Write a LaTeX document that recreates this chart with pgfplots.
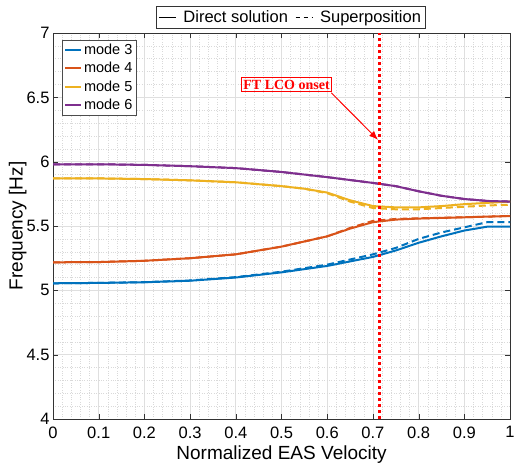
\documentclass[border=0pt]{standalone}
\usepackage{pgfplots}
\pgfplotsset{compat=1.18}
\usepackage{fontspec}
\setmainfont{Liberation Sans}
\newfontfamily\serifbf{Liberation Serif}
\usetikzlibrary{arrows.meta}
\definecolor{m3}{rgb}{0,0.447,0.741}
\definecolor{m4}{rgb}{0.85,0.325,0.098}
\definecolor{m5}{rgb}{0.929,0.694,0.125}
\definecolor{m6}{rgb}{0.494,0.184,0.556}
\begin{document}
\begin{tikzpicture}
\begin{axis}[
  name=main,
  scale only axis, width=457pt, height=386pt,
  xmin=0, xmax=1, ymin=4, ymax=7,
  xtick={0,0.1,...,1}, ytick={4,4.5,...,7},
  xticklabels={0,0.1,0.2,0.3,0.4,0.5,0.6,0.7,0.8,0.9,1},
  yticklabels={4,4.5,5,5.5,6,6.5,7},
  minor x tick num=4, minor y tick num=4,
  grid=both,
  major grid style={gray!25, line width=0.7pt},
  minor grid style={gray!30, dotted, line width=0.5pt},
  tick align=inside, major tick length=5pt, minor tick length=0pt,
  axis line style={black!80, line width=0.6pt},
  tick style={black!80},
  /pgf/number format/assume math mode=true,
  tick label style={font=\fontsize{16.5}{19}\selectfont},
  xticklabel style={yshift=-4pt},
  label style={font=\fontsize{19}{22}\selectfont},
  xlabel={Normalized EAS Velocity},
  ylabel={Frequency [Hz]},
  xlabel style={yshift=-1pt},
  ylabel style={yshift=-7pt},
  legend style={at={(0.02,0.983)}, anchor=north west, font=\fontsize{14.5}{16}\selectfont, draw=black!70, inner sep=2pt, row sep=2.5pt},
  legend cell align=left,
  legend image code/.code={\draw[#1] (0cm,0cm) -- (0.55cm,0cm);},
]
\addplot[m3, line width=2pt] coordinates {(0,5.055)(0.1,5.058)(0.2,5.063)(0.3,5.075)(0.4,5.10)(0.5,5.14)(0.6,5.19)(0.7,5.26)(0.75,5.31)(0.8,5.37)(0.85,5.42)(0.9,5.465)(0.95,5.495)(1,5.495)};
\addlegendentry{mode 3}
\addplot[m4, line width=2pt] coordinates {(0,5.218)(0.1,5.22)(0.2,5.23)(0.3,5.25)(0.4,5.28)(0.5,5.34)(0.6,5.42)(0.65,5.48)(0.7,5.53)(0.75,5.55)(0.8,5.558)(0.9,5.568)(1,5.578)};
\addlegendentry{mode 4}
\addplot[m5, line width=2pt] coordinates {(0,5.87)(0.1,5.87)(0.2,5.865)(0.3,5.855)(0.4,5.84)(0.5,5.81)(0.55,5.79)(0.6,5.76)(0.65,5.70)(0.7,5.655)(0.75,5.645)(0.8,5.645)(0.85,5.655)(0.9,5.67)(0.95,5.68)(1,5.69)};
\addlegendentry{mode 5}
\addplot[m6, line width=2pt] coordinates {(0,5.98)(0.1,5.98)(0.2,5.975)(0.3,5.965)(0.4,5.95)(0.5,5.92)(0.6,5.88)(0.7,5.835)(0.75,5.81)(0.8,5.77)(0.85,5.735)(0.9,5.71)(0.95,5.695)(1,5.69)};
\addlegendentry{mode 6}
\addplot[m3, line width=2pt, dash pattern=on 7pt off 4pt, forget plot] coordinates {(0,5.055)(0.1,5.058)(0.2,5.064)(0.3,5.077)(0.4,5.103)(0.5,5.145)(0.6,5.20)(0.7,5.28)(0.75,5.33)(0.8,5.40)(0.85,5.45)(0.9,5.49)(0.95,5.53)(1,5.53)};
\addplot[m4, line width=2pt, dash pattern=on 7pt off 4pt, forget plot] coordinates {(0,5.218)(0.1,5.22)(0.2,5.23)(0.3,5.25)(0.4,5.28)(0.5,5.34)(0.6,5.42)(0.65,5.485)(0.7,5.54)(0.75,5.555)(0.8,5.56)(0.9,5.568)(1,5.578)};
\addplot[m5, line width=2pt, dash pattern=on 7pt off 4pt, forget plot] coordinates {(0,5.87)(0.1,5.87)(0.2,5.865)(0.3,5.855)(0.4,5.84)(0.5,5.81)(0.55,5.79)(0.6,5.755)(0.65,5.69)(0.7,5.64)(0.75,5.63)(0.8,5.63)(0.85,5.64)(0.9,5.65)(0.95,5.66)(1,5.665)};
\addplot[m6, line width=2pt, dash pattern=on 7pt off 4pt, forget plot] coordinates {(0,5.98)(0.1,5.98)(0.2,5.975)(0.3,5.965)(0.4,5.95)(0.5,5.92)(0.6,5.88)(0.7,5.835)(0.75,5.81)(0.8,5.77)(0.85,5.735)(0.9,5.71)(0.95,5.695)(1,5.69)};
\addplot[red, line width=3pt, dash pattern=on 3pt off 3pt, forget plot] coordinates {(0.715,4)(0.715,7)};
\node[draw=red, line width=1pt, text=red, font=\serifbf\bfseries\fontsize{14}{16}\selectfont, inner sep=2pt] at (axis cs:0.511,6.60) {FT LCO onset};
\draw[red, line width=1pt, -{Latex[length=9pt,width=7pt]}] (axis cs:0.609,6.535) -- (axis cs:0.711,6.17);
\end{axis}
\begin{axis}[
  scale only axis, width=457pt, height=386pt,
  hide axis, xmin=0, xmax=1, ymin=0, ymax=1,
  legend style={at={(0.52,1.0)}, anchor=south, yshift=5pt, font=\fontsize{16.5}{19}\selectfont, draw=black!80, legend columns=2, inner sep=2pt, column sep=5pt},
  legend image code/.code={\draw[#1] (0cm,0cm) -- (0.6cm,0cm);},
]
\addlegendimage{black, line width=1pt}
\addlegendentry{Direct solution}
\addlegendimage{black, line width=1pt, dash pattern=on 4pt off 4pt}
\addlegendentry{Superposition}
\end{axis}
\path ([yshift=33pt]main.north west) -- ([xshift=-53pt]main.south west);
\end{tikzpicture}
\end{document}
